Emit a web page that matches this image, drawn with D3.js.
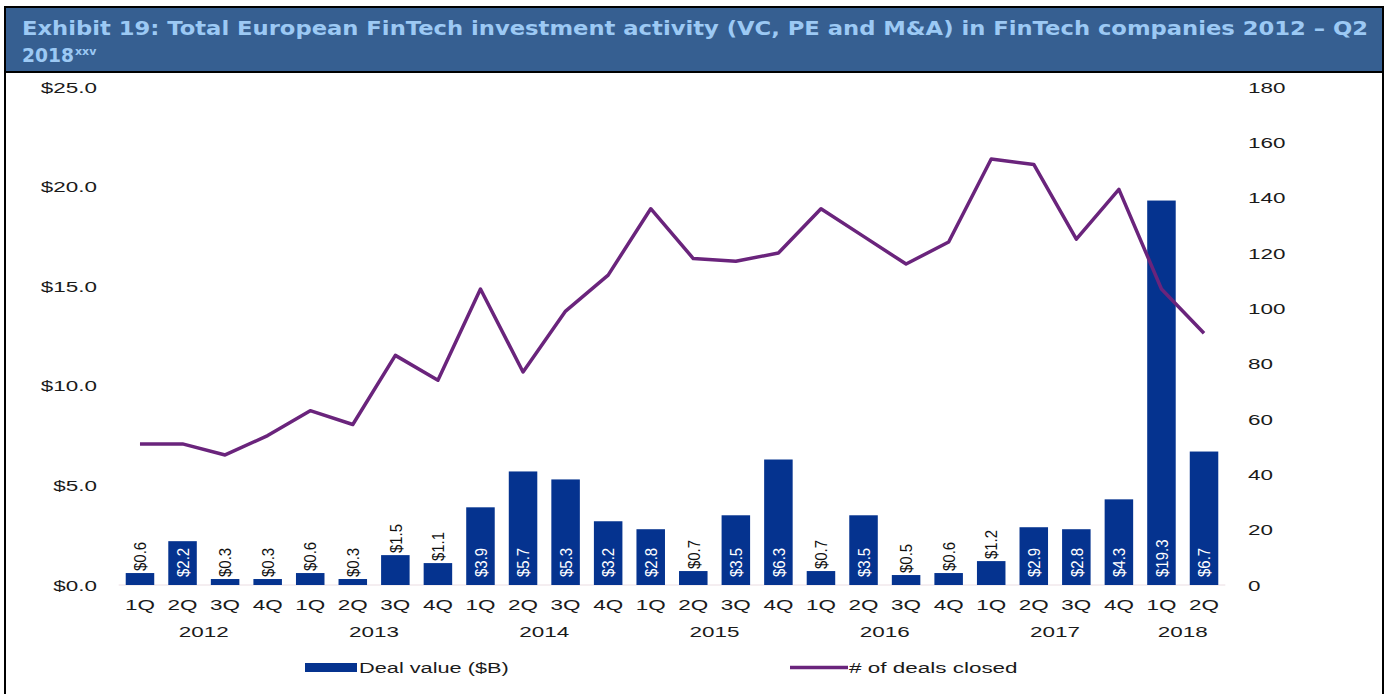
<!DOCTYPE html>
<html>
<head>
<meta charset="utf-8">
<script src="https://cdn.jsdelivr.net/npm/d3@7"></script>
<style>
  html, body { margin: 0; padding: 0; background: #fff; }
  svg { display: block; }
</style>
</head>
<body>
<svg width="1387" height="694"></svg>
<script>
// Data
const years = ["2012", "2013", "2014", "2015", "2016", "2017", "2018"];
const quarterNames = ["1Q", "2Q", "3Q", "4Q"];
const quartersPerYear = [4, 4, 4, 4, 4, 4, 2];

// Deal value ($B) per quarter
const dealValue = [0.6, 2.2, 0.3, 0.3, 0.6, 0.3, 1.5, 1.1, 3.9, 5.7, 5.3, 3.2, 2.8,
                   0.7, 3.5, 6.3, 0.7, 3.5, 0.5, 0.6, 1.2, 2.9, 2.8, 4.3, 19.3, 6.7];
// # of deals closed per quarter
const dealCount = [51, 51, 47, 54, 63, 58, 83, 74, 107, 77, 99, 112, 136,
                   118, 117, 120, 136, 126, 116, 124, 154, 152, 125, 143, 107, 91];

const leftTicks = [0, 5, 10, 15, 20, 25];
const rightTicks = [0, 20, 40, 60, 80, 100, 120, 140, 160, 180];

// Build the category list (year + quarter)
const cats = [];
years.forEach((yr, i) => {
    for (let q = 0; q < quartersPerYear[i]; q++) {
        cats.push({ key: yr + "-" + quarterNames[q], year: yr, q: quarterNames[q] });
    }
});
const data = cats.map((c, i) => ({ ...c, value: dealValue[i], count: dealCount[i] }));

const barColor = "#05338f";
const lineColor = "#6a247c";
const font = "'Liberation Sans', Arial, sans-serif";
const stretch = 1.45;   // the source chart is a horizontally stretched image

const svg = d3.select("svg");

// Header band
svg.append("rect")
    .attr("x", 5).attr("y", 7)
    .attr("width", 1378).attr("height", 65)
    .attr("fill", "#365f91")
    .attr("stroke", "#000").attr("stroke-width", 2);

const title = svg.append("g")
    .attr("font-family", "'DejaVu Sans', Verdana, sans-serif")
    .attr("font-weight", "bold")
    .attr("fill", "#9cc9f4");

title.append("text")
    .attr("x", 22).attr("y", 35)
    .attr("font-size", 20)
    .attr("textLength", 1346)
    .attr("lengthAdjust", "spacingAndGlyphs")
    .text("Exhibit 19: Total European FinTech investment activity (VC, PE and M&A) in FinTech companies 2012 \u2013 Q2");

title.append("text")
    .attr("x", 22).attr("y", 62)
    .attr("font-size", 20)
    .attr("textLength", 52)
    .attr("lengthAdjust", "spacingAndGlyphs")
    .text("2018");
title.append("text")
    .attr("x", 75).attr("y", 55)
    .attr("font-size", 11)
    .text("xxv");

// Frame lines down the sides
svg.append("line").attr("x1", 5).attr("x2", 5).attr("y1", 72).attr("y2", 694)
    .attr("stroke", "#000").attr("stroke-width", 2);
svg.append("line").attr("x1", 1383).attr("x2", 1383).attr("y1", 72).attr("y2", 694)
    .attr("stroke", "#000").attr("stroke-width", 2);

// Scales
const x = d3.scaleBand()
    .domain(data.map(d => d.key))
    .range([118.7, 1225.3])
    .paddingInner(0.33)
    .paddingOuter(0.165);

const yL = d3.scaleLinear().domain([0, 25]).range([585, 87]);
const yR = d3.scaleLinear().domain([0, 180]).range([585, 87]);

// Helper: horizontally stretched text
function stretchedText(g, tx, ty, str, anchor, size) {
    return g.append("text")
        .attr("transform", `translate(${tx},${ty}) scale(${stretch},1)`)
        .attr("text-anchor", anchor)
        .attr("font-size", size)
        .text(str);
}

// Left axis labels
const leftAxis = svg.append("g").attr("font-family", font).attr("fill", "#1a1a1a");
leftTicks.forEach(t => {
    stretchedText(leftAxis, 97, yL(t) + 5.5, "$" + t.toFixed(1), "end", 15.5);
});

// Right axis labels
const rightAxis = svg.append("g").attr("font-family", font).attr("fill", "#1a1a1a");
rightTicks.forEach(t => {
    stretchedText(rightAxis, 1248, yR(t) + 5.5, String(t), "start", 15.5);
});

// Zero line
svg.append("line")
    .attr("x1", x.range()[0]).attr("x2", x.range()[1])
    .attr("y1", yL(0)).attr("y2", yL(0))
    .attr("stroke", "#eadde2").attr("stroke-width", 1);

// Bars
svg.append("g").selectAll("rect")
    .data(data)
    .join("rect")
    .attr("x", d => x(d.key))
    .attr("y", d => yL(d.value))
    .attr("width", x.bandwidth())
    .attr("height", d => yL(0) - yL(d.value))
    .attr("fill", barColor);

// Line for number of deals
const lineGen = d3.line()
    .x(d => x(d.key) + x.bandwidth() / 2)
    .y(d => yR(d.count));

svg.append("path")
    .datum(data)
    .attr("d", lineGen)
    .attr("fill", "none")
    .attr("stroke", lineColor)
    .attr("stroke-width", 3.5)
    .attr("stroke-linejoin", "round");

// Bar value labels (rotated), inside tall bars, above short ones
const insideMin = 2;
svg.append("g").attr("font-family", font).attr("font-size", 15)
    .selectAll("text")
    .data(data)
    .join("text")
    .attr("transform", d => {
        const cx = x(d.key) + x.bandwidth() / 2;
        const cy = d.value >= insideMin ? yL(0) - 8 : yL(d.value) - 2;
        return `translate(${cx},${cy}) scale(1.15,1) rotate(-90)`;
    })
    .attr("dy", "0.36em")
    .attr("text-anchor", "start")
    .attr("fill", d => d.value >= insideMin ? "#ffffff" : "#111111")
    .text(d => "$" + d.value.toFixed(1));

// Quarter labels
const qAxis = svg.append("g").attr("font-family", font).attr("fill", "#1a1a1a");
data.forEach(d => {
    stretchedText(qAxis, x(d.key) + x.bandwidth() / 2, 610, d.q, "middle", 15.5);
});

// Year labels centred under their quarters
years.forEach(yr => {
    const items = data.filter(d => d.year === yr);
    const first = x(items[0].key);
    const last = x(items[items.length - 1].key) + x.bandwidth();
    stretchedText(qAxis, (first + last) / 2, 637, yr, "middle", 15.5);
});

// Legend
const legend = svg.append("g").attr("font-family", font).attr("fill", "#1a1a1a");
legend.append("rect")
    .attr("x", 305).attr("y", 663)
    .attr("width", 52).attr("height", 9)
    .attr("fill", barColor);
stretchedText(legend, 359, 673, "Deal value ($B)", "start", 15);

legend.append("line")
    .attr("x1", 790).attr("x2", 848)
    .attr("y1", 667.5).attr("y2", 667.5)
    .attr("stroke", lineColor)
    .attr("stroke-width", 3.5);
stretchedText(legend, 849, 673, "# of deals closed", "start", 15.5);
</script>
</body>
</html>
